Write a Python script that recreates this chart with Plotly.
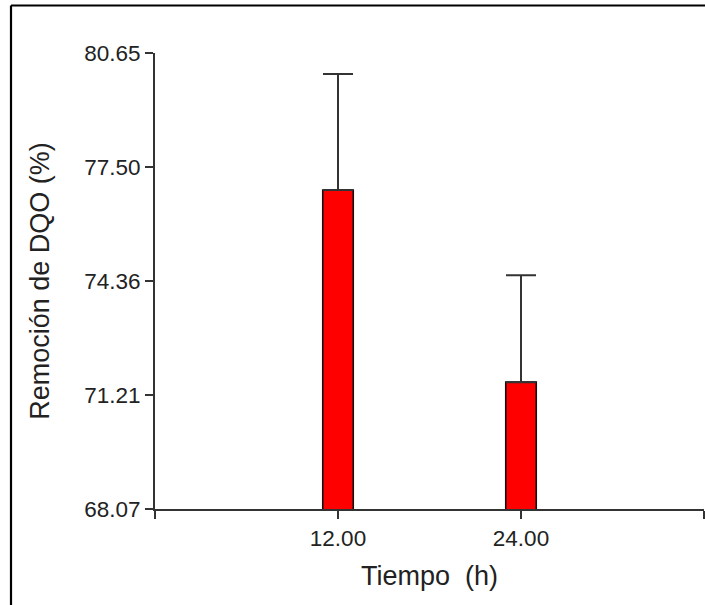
import plotly.graph_objects as go

# Data
tiempo = [12, 24]
remocion = [76.87, 71.57]
error_sup = [3.20, 2.95]
y_ticks = [68.07, 71.21, 74.36, 77.50, 80.65]
y_ticktext = ["68.07", "71.21", "74.36", "77.50", "80.65"]
x_ticks = [0, 12, 24, 36]
x_ticktext = ["", "12.00", "24.00", ""]

W, H = 705, 605
L, R, T, B = 155, 1, 53, 96
pw = W - L - R
ph = H - T - B

font_family = "Liberation Sans, Arial, sans-serif"

fig = go.Figure()
fig.add_trace(go.Bar(
    x=tiempo, y=remocion, width=2,
    marker=dict(color="#FF0000", line=dict(color="#111111", width=1.6)),
    error_y=dict(type="data", symmetric=False, array=error_sup,
                 arrayminus=[0, 0], color="#333333", thickness=2, width=15),
))

# outer frame (left and top edges)
fx = (11 - L) / pw
fy = (H - B - 5.5) / ph
fig.add_shape(type="line", xref="paper", yref="paper", x0=fx, x1=fx, y0=fy, y1=-0.4,
              line=dict(color="#000000", width=2.2))
fig.add_shape(type="line", xref="paper", yref="paper", x0=fx, x1=1.2, y0=fy, y1=fy,
              line=dict(color="#000000", width=2.2))

axis_common = dict(showgrid=False, zeroline=False, showline=True, linecolor="#333333",
                   linewidth=2, ticks="outside", ticklen=8, tickwidth=2, tickcolor="#333333",
                   tickfont=dict(family=font_family, size=22.5, color="#222222"))

fig.update_layout(
    width=W, height=H,
    margin=dict(l=L, r=R, t=T, b=B),
    plot_bgcolor="white", paper_bgcolor="white",
    showlegend=False,
    xaxis=dict(range=[0, 36], tickvals=x_ticks, ticktext=x_ticktext,
               title=dict(text="Tiempo  (h)", font=dict(family=font_family, size=27, color="#222222"),
                          standoff=16),
               **axis_common),
    yaxis=dict(range=[68.07, 80.65], tickvals=y_ticks, ticktext=y_ticktext,
               title=dict(text="Remoción de DQO (%)", font=dict(family=font_family, size=27, color="#222222"),
                          standoff=27),
               **axis_common),
)

fig.write_html("out.html")
